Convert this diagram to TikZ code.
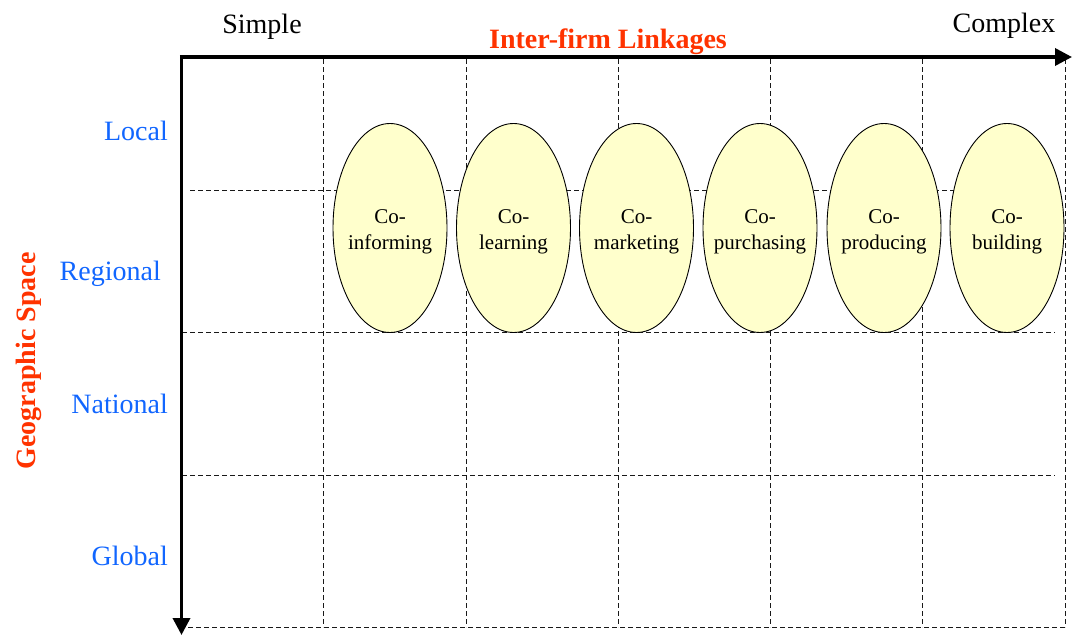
\documentclass[tikz,border=0pt]{standalone}
\usepackage{fontspec}
\setmainfont{Liberation Serif}
\usetikzlibrary{arrows.meta,shapes.geometric}
\definecolor{lblblue}{HTML}{1166FF}
\definecolor{hdred}{HTML}{FF3300}
\definecolor{ellfill}{HTML}{FFFFCC}
\tikzset{
  axisline/.style={line width=3.5pt,-{Triangle[length=17pt,width=17pt]}},
  gridline/.style={line width=1pt,dash pattern=on 5pt off 3pt,black!90},
  ellbox/.style={ellipse,draw=black,line width=0.9pt,fill=ellfill,minimum width=114pt,minimum height=209pt,inner sep=0pt},
  elltext/.style={align=center,inner sep=0pt,font=\fontsize{21}{26}\selectfont},
  endlbl/.style={font=\fontsize{28}{32}\selectfont,anchor=base,inner sep=0pt},
  geolbl/.style={font=\fontsize{28}{32}\selectfont,text=lblblue,anchor=base east,inner sep=0pt},
  titlelbl/.style={font=\fontsize{28}{32}\selectfont\bfseries,text=hdred,anchor=base,inner sep=0pt}
}
\begin{document}
\begin{tikzpicture}[x=1pt,y=-1pt]
\useasboundingbox (0,0) rectangle (1072,635);
% grid
\foreach \xx in {323,466,618,770,922,1065}
  \draw[gridline] (\xx,59) -- (\xx,627);
\draw[gridline] (190,190) -- (1055,190);
\draw[gridline] (182,332) -- (1055,332);
\draw[gridline] (182,475) -- (1055,475);
\draw[gridline] (188,627) -- (1065,627);
% axes
\coordinate (o) at (181.5,57);
\coordinate (xend) at (1072,57);
\coordinate (yend) at (181.5,635);
\draw[axisline] (179.75,57) -- (xend);
\draw[axisline] (o) -- (yend);
% ellipses
\node[ellbox] (e1) at (390,228) {};
\node[ellbox] (e2) at (513.5,228) {};
\node[ellbox] (e3) at (636.5,228) {};
\node[ellbox] (e4) at (760,228) {};
\node[ellbox] (e5) at (884,228) {};
\node[ellbox] (e6) at (1007,228) {};
\node[elltext] (t1) at ([yshift=-4pt]e1.center) {Co-\\informing};
\node[elltext] (t2) at ([yshift=-4pt]e2.center) {Co-\\learning};
\node[elltext] (t3) at ([yshift=-4pt]e3.center) {Co-\\marketing};
\node[elltext] (t4) at ([yshift=-4pt]e4.center) {Co-\\purchasing};
\node[elltext] (t5) at ([yshift=-4pt]e5.center) {Co-\\producing};
\node[elltext] (t6) at ([yshift=-4pt]e6.center) {Co-\\building};
% labels
\node[endlbl] (simple) at (262,33) {Simple};
\node[endlbl] (complex) at (1004,32) {Complex};
\node[titlelbl] (ifl) at (608,48) {Inter-firm Linkages};
\node[titlelbl,rotate=90] (geo) at (35,361) {Geographic Space};
\node[geolbl] (local) at (168,140) {Local};
\node[geolbl] (regional) at (161,280) {Regional};
\node[geolbl] (national) at (168,413) {National};
\node[geolbl] (global) at (168,565) {Global};
\end{tikzpicture}
\end{document}
